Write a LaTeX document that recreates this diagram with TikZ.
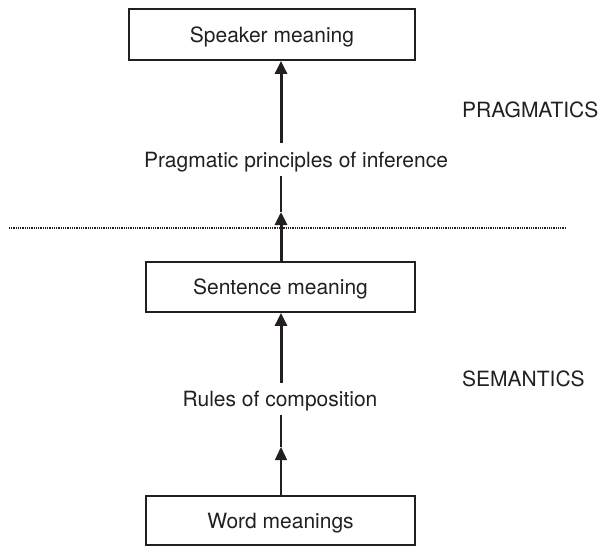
\documentclass[tikz,border=0pt]{standalone}
\usepackage{fontspec}
\setmainfont{TeX Gyre Heros}
\usetikzlibrary{arrows.meta}
\definecolor{ink}{HTML}{231F20}
\begin{document}
\begin{tikzpicture}[x=1pt,y=-1pt,ink,
	box/.style={draw=ink,line width=1.8pt,minimum height=50pt,text height=15pt,text depth=0pt,inner sep=0pt,font=\fontsize{21}{25}\selectfont},
	lbl/.style={inner xsep=0pt,inner ysep=8.5pt,text height=15pt,text depth=0pt,font=\fontsize{21}{25}\selectfont},
	tipstyle/.style={-{Stealth[inset=0pt,length=13pt,width=12pt]}},
	fatarrow/.style={line width=3pt,tipstyle},
	thinline/.style={line width=1.3pt},
	divider/.style={line width=1.3pt,dash pattern=on 0.9pt off 0.9pt}]
	\useasboundingbox (0,0) rectangle (606,546);

	% Draw boxes
	\node[box,minimum width=286pt,minimum height=51pt] (speaker) at (272,34.5) {Speaker meaning};
	\node[box,minimum width=269pt] (sentence) at (280.5,287) {Sentence meaning};
	\node[box,minimum width=269pt,minimum height=49pt] (word) at (280.5,520.5) {Word meanings};

	% Label the steps and levels
	\node[lbl] (prag) at (296,159.5) {Pragmatic principles of inference};
	\node[lbl] (rules) at (280,399) {Rules of composition};
	\node[lbl,anchor=west] (pragmatics) at (462,109.5) {PRAGMATICS};
	\node[lbl,anchor=west] (semantics) at (462,379) {SEMANTICS};

	% Draw dotted divider
	\coordinate (divL) at (9,228);
	\coordinate (divR) at (566,228);
	\draw[divider] (divL) -- (divR);

	% Draw arrows
	\coordinate (axis) at (281,0);
	\coordinate (tipA) at (281,212);
	\coordinate (tipB) at (281,447);
	\draw[fatarrow] (prag.north -| axis) -- (speaker.south -| axis);
	\draw[fatarrow] (sentence.north -| axis) -- (tipA);
	\draw[thinline] (tipA) -- (prag.south -| axis);
	\draw[fatarrow] (rules.north -| axis) -- (sentence.south -| axis);
	\draw[thinline,tipstyle] (word.north -| axis) -- (tipB);
	\draw[thinline] (tipB) -- (rules.south -| axis);
\end{tikzpicture}
\end{document}
